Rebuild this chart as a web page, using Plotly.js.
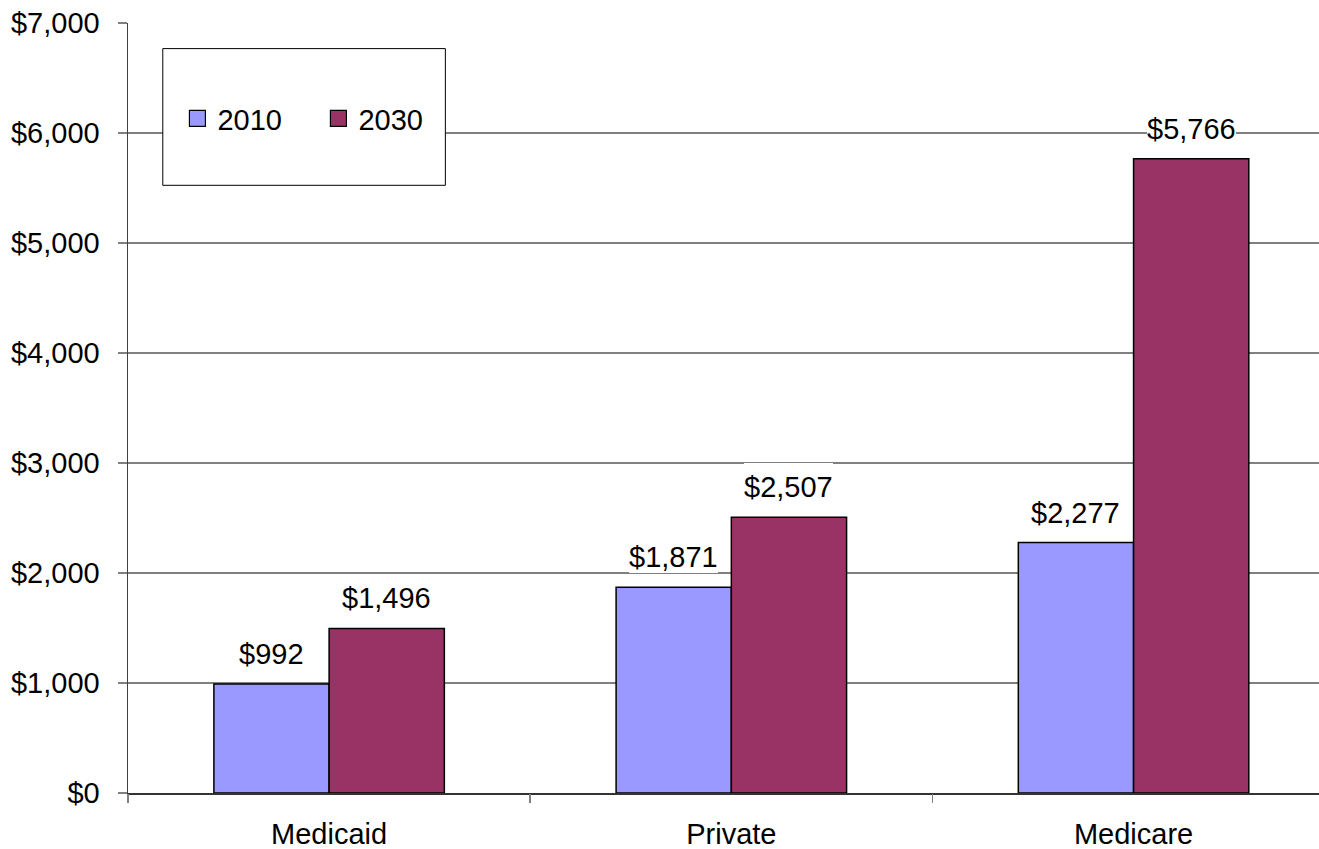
<!DOCTYPE html>
<html>
<head>
<meta charset="utf-8">
<script src="https://cdn.plot.ly/plotly-3.0.1.min.js"></script>
<style>html,body{margin:0;padding:0;overflow:hidden;background:#fff;}</style>
</head>
<body>
<div id="chart" style="width:1319px;height:849px;"></div>
<script>
const categories = ["Medicaid", "Private", "Medicare"];
const seriesNames = ["2010", "2030"];
const values2010 = [992, 1871, 2277];
const values2030 = [1496, 2507, 5766];
const seriesColors = ["#9999FF", "#993366"];

const FONT = "Liberation Sans, Arial, sans-serif";
const FS = 29;
const bargap = 0.427;

const seriesValues = [values2010, values2030];
const traces = seriesValues.map((vals, s) => ({
  type: "bar",
  name: seriesNames[s],
  x: categories.map((c, i) => i),
  y: vals,
  showlegend: false,
  marker: { color: seriesColors[s], line: { color: "#000000", width: 1.5 } },
  hoverinfo: "none"
}));

// legend entries (square swatches)
seriesNames.forEach((n, s) => {
  traces.push({
    type: "scatter",
    mode: "markers",
    name: n,
    x: [null], y: [null],
    marker: { symbol: "square", size: 16, color: seriesColors[s], line: { color: "#000000", width: 1.2 } },
    hoverinfo: "none",
    showlegend: true
  });
});

const barW = (1 - bargap) / seriesValues.length;
const annotations = [];
seriesValues.forEach((vals, s) => {
  vals.forEach((v, i) => {
    annotations.push({
      xref: "x", yref: "y",
      x: i + (s - (seriesValues.length - 1) / 2) * barW,
      y: v,
      yanchor: "bottom",
      xanchor: "center",
      yshift: 14,
      height: 40,
      valign: "bottom",
      text: "$" + v.toLocaleString("en-US"),
      showarrow: false,
      bgcolor: "#ffffff",
      borderpad: 0,
      borderwidth: 0,
      font: { family: FONT, size: FS, color: "#000" }
    });
  });
});

const layout = {
  width: 1319,
  height: 849,
  margin: { l: 127.5, r: 0, t: 23, b: 56, pad: 0 },
  paper_bgcolor: "#ffffff",
  plot_bgcolor: "#ffffff",
  showlegend: true,
  barmode: "group",
  bargap: bargap,
  bargroupgap: 0,
  font: { family: FONT, size: FS, color: "#000" },
  xaxis: {
    type: "linear",
    range: [-0.5, 2.461],
    tickmode: "array",
    tickvals: categories.map((c, i) => i),
    ticktext: categories,
    ticks: "",
    showgrid: false,
    zeroline: false,
    showline: true,
    linecolor: "#333333",
    linewidth: 2,
    tickfont: { family: FONT, size: FS, color: "#000" },
    ticklabelstandoff: 14
  },
  xaxis2: {
    overlaying: "x",
    matches: "x",
    type: "linear",
    tickmode: "array",
    tickvals: [-0.5, 0.5, 1.5],
    ticktext: ["", "", ""],
    ticks: "outside",
    ticklen: 9,
    tickwidth: 1.5,
    tickcolor: "#808080",
    showgrid: false,
    zeroline: false,
    showline: false
  },
  yaxis: {
    range: [0, 7000],
    dtick: 1000,
    tick0: 0,
    tickprefix: "$",
    tickformat: ",d",
    ticks: "outside",
    ticklen: 9,
    tickwidth: 1.5,
    tickcolor: "#808080",
    showgrid: true,
    gridcolor: "#808080",
    gridwidth: 1.5,
    zeroline: false,
    showline: true,
    linecolor: "#404040",
    linewidth: 1.5,
    tickfont: { family: FONT, size: FS, color: "#000" },
    ticklabelstandoff: 12
  },
  legend: {
    orientation: "h",
    x: 0.0415, y: 0.876,
    xanchor: "left", yanchor: "middle",
    bgcolor: "rgba(0,0,0,0)",
    borderwidth: 0,
    font: { family: FONT, size: FS, color: "#000" },
    itemclick: false, itemdoubleclick: false,
    tracegroupgap: 0,
    itemwidth: 30,
    entrywidth: 96
  },
  shapes: [{
    type: "rect",
    xref: "paper", yref: "paper",
    x0: (162.3 - 127.5) / 1191.5, x1: (445 - 127.5) / 1191.5,
    y0: (792.7 - 185) / 770, y1: (792.7 - 48.3) / 770,
    fillcolor: "#ffffff",
    line: { color: "#000000", width: 1 },
    layer: "above"
  }],
  annotations: annotations
};

// helper trace so that boundary ticks appear on xaxis2
traces.push({ type: "scatter", x: [0], y: [0], xaxis: "x2", yaxis: "y", mode: "none", showlegend: false, hoverinfo: "none" });

Plotly.newPlot("chart", traces, layout, { staticPlot: true, displayModeBar: false });
</script>
</body>
</html>
